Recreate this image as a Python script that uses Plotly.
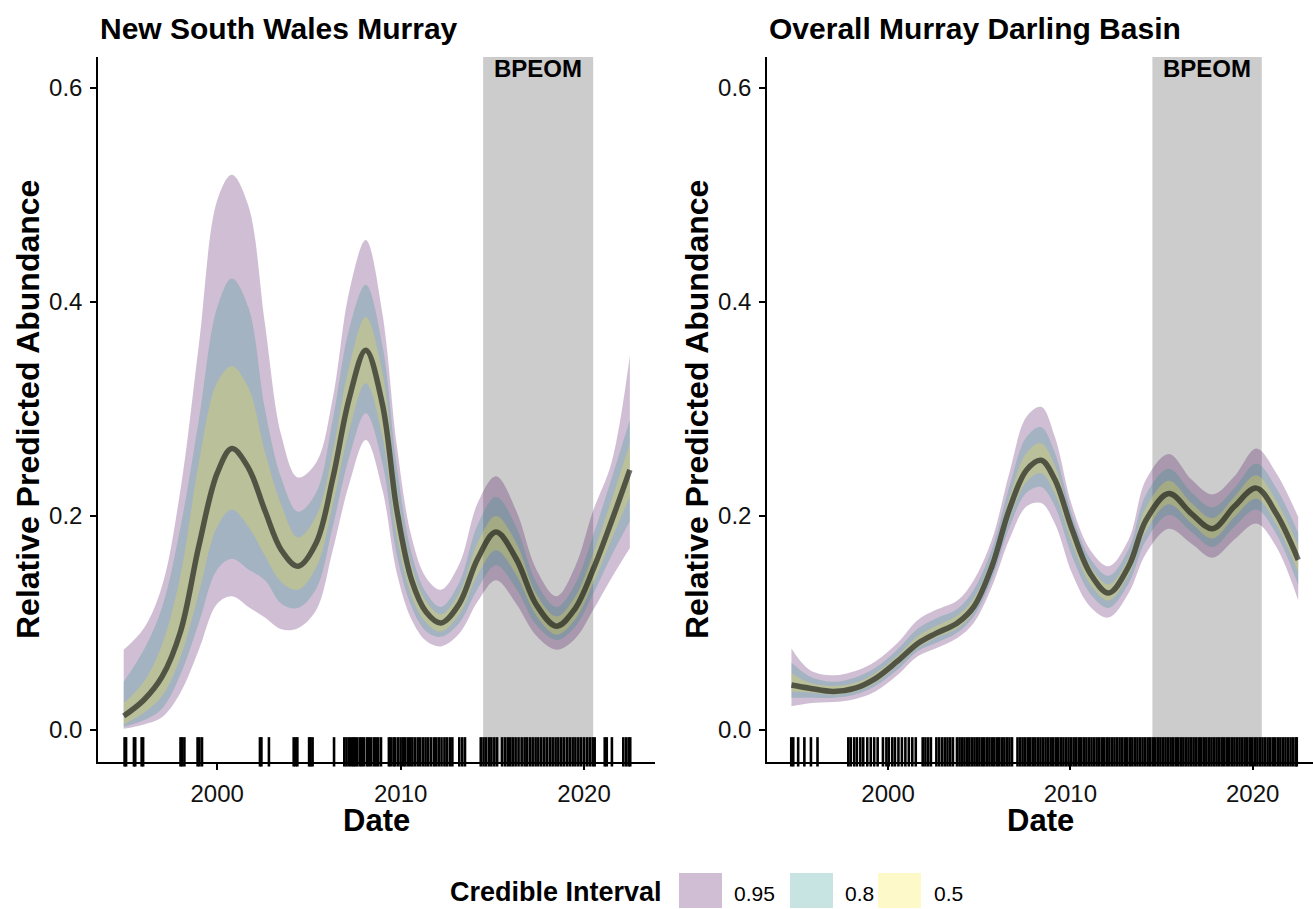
import plotly.graph_objects as go

W, H = 1313, 909

# ---------------- data: New South Wales Murray ----------------
nsw_year = [1994.9, 1996.0, 1997.0, 1998.0, 1999.0, 2000.0, 2000.8, 2001.7, 2002.6, 2003.5,
            2004.4, 2005.4, 2006.3, 2007.2, 2008.1, 2009.0, 2009.8, 2010.6, 2011.4, 2012.2,
            2013.2, 2014.2, 2015.2, 2016.3, 2017.4, 2018.5, 2019.5, 2020.5, 2021.5, 2022.5]
nsw_med = [0.013, 0.028, 0.050, 0.092, 0.172, 0.240, 0.263, 0.245, 0.205, 0.168,
           0.153, 0.175, 0.235, 0.310, 0.355, 0.305, 0.205, 0.140, 0.110, 0.100,
           0.118, 0.160, 0.185, 0.160, 0.117, 0.097, 0.113, 0.150, 0.195, 0.243]
nsw_u50 = [0.025, 0.045, 0.080, 0.145, 0.250, 0.325, 0.340, 0.320, 0.260, 0.210,
           0.180, 0.200, 0.260, 0.340, 0.386, 0.335, 0.225, 0.153, 0.120, 0.108,
           0.128, 0.175, 0.200, 0.175, 0.127, 0.106, 0.124, 0.165, 0.215, 0.268]
nsw_l50 = [0.005, 0.016, 0.032, 0.068, 0.128, 0.190, 0.206, 0.190, 0.163, 0.138,
           0.131, 0.152, 0.210, 0.280, 0.324, 0.275, 0.180, 0.125, 0.100, 0.092,
           0.108, 0.145, 0.168, 0.145, 0.107, 0.089, 0.103, 0.137, 0.178, 0.218]
nsw_u80 = [0.045, 0.075, 0.115, 0.190, 0.290, 0.395, 0.422, 0.395, 0.300, 0.235,
           0.204, 0.222, 0.290, 0.375, 0.416, 0.360, 0.245, 0.165, 0.128, 0.115,
           0.138, 0.192, 0.218, 0.190, 0.138, 0.115, 0.136, 0.182, 0.235, 0.290]
nsw_l80 = [0.003, 0.009, 0.020, 0.052, 0.100, 0.150, 0.160, 0.150, 0.140, 0.118,
           0.114, 0.132, 0.190, 0.255, 0.296, 0.250, 0.163, 0.115, 0.092, 0.087,
           0.100, 0.132, 0.154, 0.132, 0.098, 0.084, 0.096, 0.127, 0.163, 0.195]
nsw_u95 = [0.075, 0.095, 0.135, 0.225, 0.360, 0.495, 0.519, 0.490, 0.380, 0.275,
           0.236, 0.250, 0.310, 0.410, 0.458, 0.390, 0.265, 0.180, 0.142, 0.131,
           0.155, 0.212, 0.237, 0.205, 0.150, 0.125, 0.152, 0.205, 0.250, 0.350]
nsw_l95 = [0.001, 0.005, 0.012, 0.035, 0.075, 0.118, 0.125, 0.115, 0.105, 0.094,
           0.095, 0.112, 0.168, 0.230, 0.271, 0.225, 0.146, 0.103, 0.083, 0.078,
           0.090, 0.120, 0.140, 0.118, 0.088, 0.075, 0.085, 0.112, 0.142, 0.170]
nsw_rug = [1994.95, 1995.03, 1995.46, 1995.53, 1995.88, 1995.96,
           1998.0, 1998.08, 1998.21, 1998.93, 1999.03, 1999.17,
           2002.33, 2002.41, 2002.82, 2004.17, 2004.27, 2004.37, 2005.01, 2005.09, 2005.2,
           2006.37, 2006.93, 2007.05, 2007.18, 2007.3, 2007.42, 2007.51, 2007.63, 2007.77,
           2007.88, 2008.0, 2008.16, 2008.27, 2008.39, 2008.54, 2008.66, 2008.78, 2008.93,
           2009.36, 2009.46, 2009.61, 2009.71, 2009.86, 2010.0, 2010.14, 2010.25, 2010.39,
           2010.52, 2010.64, 2010.78, 2010.93, 2011.07, 2011.22, 2011.36, 2011.5, 2011.65,
           2011.81, 2011.94, 2012.08, 2012.23, 2012.39, 2012.52, 2012.68, 2012.82,
           2013.2, 2013.36, 2013.51,
           2014.37, 2014.52, 2014.66, 2014.82, 2014.95, 2015.11, 2015.26, 2015.53, 2015.69,
           2015.84, 2015.98, 2016.12, 2016.27, 2016.43, 2016.6, 2016.76, 2016.89, 2017.05,
           2017.2, 2017.36, 2017.51, 2017.67, 2017.83, 2017.98, 2018.14, 2018.29, 2018.45,
           2018.6, 2018.76, 2018.91, 2019.07, 2019.22, 2019.38, 2019.53, 2019.69, 2019.84,
           2020.0, 2020.16, 2020.31, 2020.47, 2020.58,
           2021.13, 2021.24, 2021.52, 2022.14, 2022.29, 2022.43, 2022.52]

# ---------------- data: Overall Murray Darling Basin ----------------
mdb_year = [1994.7, 1995.7, 1997.0, 1998.2, 1999.3, 2000.5, 2001.65, 2002.6, 2003.8, 2004.7,
            2005.7, 2006.65, 2007.6, 2008.4, 2009.15, 2010.1, 2011.1, 2012.1, 2013.2, 2014.15,
            2015.4, 2016.65, 2017.8, 2019.0, 2020.2, 2021.3, 2022.5]
mdb_med = [0.042, 0.039, 0.036, 0.039, 0.048, 0.064, 0.081, 0.090, 0.100, 0.115,
           0.153, 0.206, 0.243, 0.252, 0.234, 0.187, 0.146, 0.128, 0.153, 0.196,
           0.221, 0.202, 0.188, 0.209, 0.226, 0.202, 0.159]
mdb_u50 = [0.053, 0.044, 0.041, 0.044, 0.053, 0.069, 0.088, 0.097, 0.107, 0.123,
           0.161, 0.217, 0.259, 0.268, 0.247, 0.194, 0.153, 0.136, 0.161, 0.208,
           0.233, 0.212, 0.198, 0.218, 0.238, 0.214, 0.172]
mdb_l50 = [0.036, 0.035, 0.033, 0.036, 0.044, 0.060, 0.077, 0.086, 0.095, 0.110,
           0.147, 0.197, 0.232, 0.240, 0.221, 0.174, 0.136, 0.121, 0.145, 0.186,
           0.211, 0.193, 0.179, 0.199, 0.216, 0.192, 0.147]
mdb_u80 = [0.063, 0.050, 0.045, 0.049, 0.058, 0.075, 0.095, 0.104, 0.113, 0.131,
           0.169, 0.227, 0.274, 0.283, 0.259, 0.201, 0.160, 0.144, 0.169, 0.220,
           0.244, 0.222, 0.208, 0.226, 0.249, 0.226, 0.184]
mdb_l80 = [0.030, 0.030, 0.030, 0.033, 0.041, 0.056, 0.074, 0.081, 0.091, 0.106,
           0.141, 0.189, 0.222, 0.227, 0.209, 0.162, 0.127, 0.114, 0.137, 0.177,
           0.201, 0.185, 0.171, 0.190, 0.206, 0.183, 0.135]
mdb_u95 = [0.076, 0.056, 0.051, 0.055, 0.064, 0.081, 0.103, 0.112, 0.121, 0.140,
           0.178, 0.240, 0.293, 0.302, 0.274, 0.209, 0.168, 0.153, 0.178, 0.234,
           0.258, 0.234, 0.220, 0.237, 0.263, 0.240, 0.199]
mdb_l95 = [0.022, 0.025, 0.026, 0.029, 0.036, 0.051, 0.069, 0.076, 0.086, 0.100,
           0.134, 0.178, 0.209, 0.212, 0.193, 0.146, 0.115, 0.105, 0.128, 0.165,
           0.188, 0.174, 0.161, 0.178, 0.193, 0.171, 0.121]
mdb_rug = [1994.69, 1994.8, 1995.07, 1995.41, 1995.77, 1996.13,
           1997.82, 1997.95, 1998.14, 1998.29, 1998.48, 1998.64, 1998.86, 1999.05, 1999.24, 1999.43,
           1999.72, 1999.91, 2000.04, 2000.23, 2000.38, 2000.57, 2000.76, 2000.95, 2001.14,
           2001.33, 2001.52, 2001.9, 2002.05, 2002.2, 2002.35, 2002.65, 2002.8, 2002.96,
           2003.11, 2003.26, 2003.41, 2003.56, 2003.78, 2003.92, 2004.05, 2004.19, 2004.33,
           2004.46, 2004.6, 2004.74, 2004.87, 2005.01, 2005.15, 2005.28, 2005.42, 2005.56,
           2005.7, 2005.83, 2005.97, 2006.1, 2006.24, 2006.38, 2006.52, 2006.66, 2006.8,
           2007.1, 2007.24, 2007.38, 2007.52, 2007.66, 2007.8, 2007.94, 2008.08, 2008.22,
           2008.36, 2008.5, 2008.64, 2008.78, 2008.92, 2009.06, 2009.2, 2009.34, 2009.48,
           2009.62, 2009.76, 2009.9, 2010.04, 2010.18, 2010.32, 2010.46, 2010.6, 2010.74,
           2010.88, 2011.02, 2011.16, 2011.3, 2011.44, 2011.58, 2011.72, 2011.86, 2012.0,
           2012.14, 2012.28, 2012.42, 2012.56, 2012.7, 2012.84, 2012.98, 2013.12, 2013.26,
           2013.4, 2013.54, 2013.68, 2013.82, 2013.96, 2014.1, 2014.24, 2014.38, 2014.52,
           2014.66, 2014.8, 2014.94, 2015.08, 2015.22, 2015.36, 2015.5, 2015.64, 2015.78,
           2015.92, 2016.06, 2016.2, 2016.34, 2016.48, 2016.62, 2016.76, 2016.9, 2017.04,
           2017.18, 2017.32, 2017.46, 2017.6, 2017.74, 2017.88, 2018.02, 2018.16, 2018.3,
           2018.44, 2018.58, 2018.72, 2018.86, 2019.0, 2019.14, 2019.28, 2019.42, 2019.56,
           2019.7, 2019.84, 2019.98, 2020.12, 2020.26, 2020.4, 2020.54, 2020.68, 2020.82,
           2020.96, 2021.1, 2021.24, 2021.38, 2021.52, 2021.66, 2021.8, 2021.94, 2022.08,
           2022.22, 2022.36, 2022.42]

bpeom_start, bpeom_end = 2014.5, 2020.5
y_ticks = [0.0, 0.2, 0.4, 0.6]
x_ticks = [2000, 2010, 2020]
ci_levels = ["0.95", "0.8", "0.5"]
ci_colors = ["rgba(68,1,84,0.25)", "rgba(33,144,140,0.25)", "rgba(253,231,37,0.25)"]
ci_key_colors = ["#D0BFD4", "#C7E3E2", "#FEF9C8"]

FONT = "Liberation Sans, Arial, sans-serif"
fig = go.Figure()

panels = [
    dict(xa="x", ya="y", year=nsw_year, med=nsw_med, rug=nsw_rug,
         bands=[(nsw_l95, nsw_u95), (nsw_l80, nsw_u80), (nsw_l50, nsw_u50)]),
    dict(xa="x2", ya="y2", year=mdb_year, med=mdb_med, rug=mdb_rug,
         bands=[(mdb_l95, mdb_u95), (mdb_l80, mdb_u80), (mdb_l50, mdb_u50)]),
]

RUG_Y = -0.0205
for p in panels:
    for (lo, hi), col in zip(p["bands"], ci_colors):
        fig.add_trace(go.Scatter(x=p["year"], y=lo, xaxis=p["xa"], yaxis=p["ya"],
                                 mode="lines", line=dict(width=0, shape="spline", smoothing=1.0),
                                 showlegend=False, hoverinfo="skip"))
        fig.add_trace(go.Scatter(x=p["year"], y=hi, xaxis=p["xa"], yaxis=p["ya"],
                                 mode="lines", line=dict(width=0, shape="spline", smoothing=1.0),
                                 fill="tonexty", fillcolor=col, showlegend=False, hoverinfo="skip"))
    fig.add_trace(go.Scatter(x=p["year"], y=p["med"], xaxis=p["xa"], yaxis=p["ya"],
                             mode="lines", line=dict(width=5.5, color="rgba(0,0,0,0.56)",
                                                     shape="spline", smoothing=1.0),
                             showlegend=False))
    fig.add_trace(go.Scatter(x=p["rug"], y=[RUG_Y] * len(p["rug"]), xaxis=p["xa"], yaxis=p["ya"],
                             mode="markers", cliponaxis=False,
                             marker=dict(symbol="line-ns", size=21, color="black",
                                         line=dict(width=2.6, color="black")),
                             showlegend=False, hoverinfo="skip"))

x_dom1 = [98 / W, 655 / W]
x_dom2 = [767 / W, 1.0]
y_dom = [1 - 762 / H, 1 - 57 / H]
axis_common = dict(showline=True, linecolor="black", linewidth=1.5, ticks="outside",
                   ticklen=6, tickwidth=1.5, tickcolor="black", showgrid=False, zeroline=False,
                   tickfont=dict(family=FONT, size=24, color="#111111"))

fig.update_layout(
    width=W, height=H, margin=dict(l=0, r=0, t=0, b=0),
    paper_bgcolor="white", plot_bgcolor="white",
    xaxis=dict(domain=x_dom1, range=[1993.5, 2023.87], tickvals=x_ticks, anchor="y",
               ticklabelstandoff=3, **axis_common),
    yaxis=dict(domain=y_dom, range=[-0.030, 0.629], tickvals=y_ticks, tickformat=".1f",
               anchor="x", ticklabelstandoff=3, **axis_common),
    xaxis2=dict(domain=x_dom2, range=[1993.36, 2023.31], tickvals=x_ticks, anchor="y2",
                ticklabelstandoff=3, **axis_common),
    yaxis2=dict(domain=y_dom, range=[-0.030, 0.629], tickvals=y_ticks, tickformat=".1f",
                anchor="x2", ticklabelstandoff=3, **axis_common),
)

shapes = []
annotations = []
for xa, ya in [("x", "y"), ("x2", "y2")]:
    shapes.append(dict(type="rect", xref=xa, yref=f"{ya} domain", x0=bpeom_start, x1=bpeom_end,
                       y0=0, y1=1, fillcolor="#CCCCCC", line=dict(width=0), layer="below"))
    annotations.append(dict(text="<b>BPEOM</b>", xref=xa, yref=f"{ya} domain",
                            x=(bpeom_start + bpeom_end) / 2, y=1.005, yanchor="top", xanchor="center",
                            showarrow=False, font=dict(family=FONT, size=24, color="black")))

titles = [("New South Wales Murray", 98), ("Overall Murray Darling Basin", 767)]
for t, xp in titles:
    annotations.append(dict(text=f"<b>{t}</b>", xref="paper", yref="paper", x=xp / W,
                            y=1 - 29 / H, xanchor="left", yanchor="middle", showarrow=False,
                            font=dict(family=FONT, size=30, color="black")))
for xc in [28, 697]:
    annotations.append(dict(text="<b>Relative Predicted Abundance</b>", xref="paper", yref="paper",
                            x=xc / W, y=1 - 410 / H, textangle=-90, xanchor="center",
                            yanchor="middle", showarrow=False,
                            font=dict(family=FONT, size=32, color="black")))
for xc in [376, 1040]:
    annotations.append(dict(text="<b>Date</b>", xref="paper", yref="paper", x=xc / W,
                            y=1 - 820 / H, xanchor="center", yanchor="middle", showarrow=False,
                            font=dict(family=FONT, size=31, color="black")))

# legend (drawn manually)
annotations.append(dict(text="<b>Credible Interval</b>", xref="paper", yref="paper",
                        x=664 / W, y=1 - 892 / H, xanchor="right", yanchor="middle",
                        showarrow=False, font=dict(family=FONT, size=27, color="black")))
key_x = [679, 790, 878]
lab_x = [732, 843, 932]
for kx, lx, lab, kc in zip(key_x, lab_x, ci_levels, ci_key_colors):
    shapes.append(dict(type="rect", xref="paper", yref="paper", x0=kx / W, x1=(kx + 43) / W,
                       y0=1 - 908 / H, y1=1 - 873 / H, fillcolor=kc, line=dict(width=0)))
    annotations.append(dict(text=lab, xref="paper", yref="paper", x=lx / W,
                            y=1 - 893 / H, xanchor="left", yanchor="middle", showarrow=False,
                            font=dict(family=FONT, size=21, color="black")))

fig.update_layout(shapes=shapes, annotations=annotations)
fig.write_html("out.html")
